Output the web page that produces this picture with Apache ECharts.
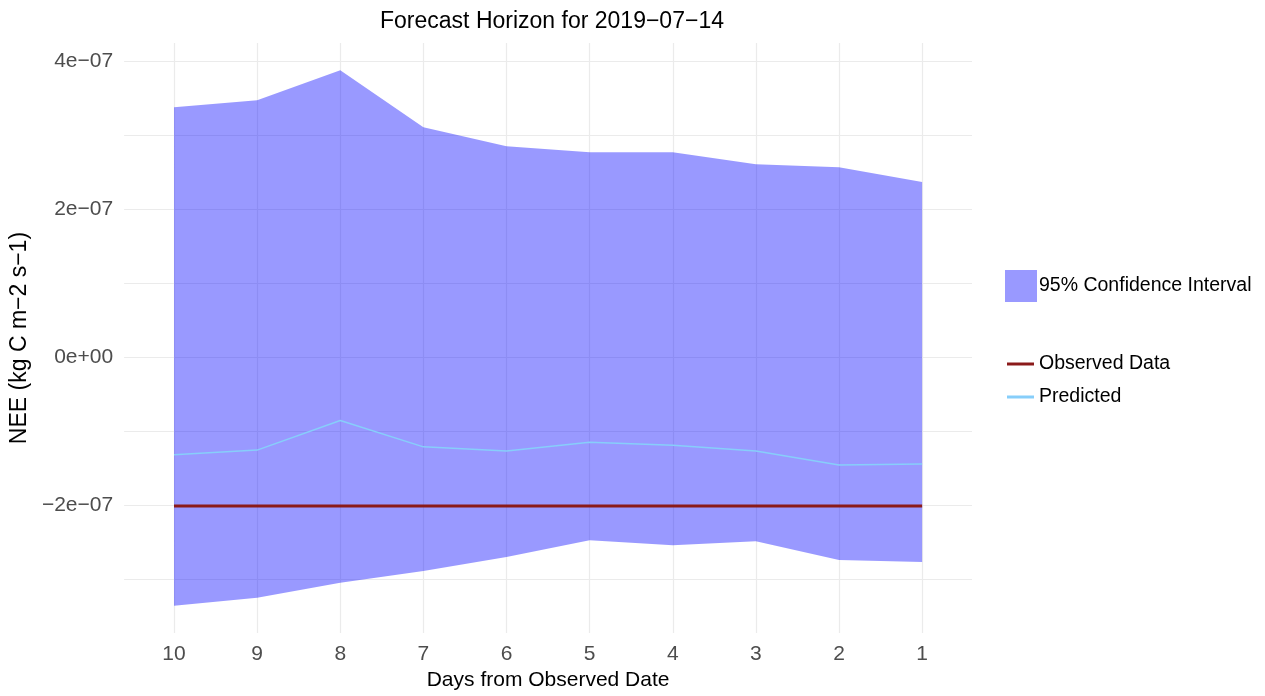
<!DOCTYPE html>
<html>
<head>
<meta charset="UTF-8">
<title>Forecast Horizon</title>
<script src="https://cdn.jsdelivr.net/npm/echarts@6/dist/echarts.min.js"></script>
<style>
  html, body { margin: 0; padding: 0; background: #fff; }
  #main { width: 1265px; height: 696px; }
</style>
</head>
<body>
<div id="main"></div>
<script>
// days from observed date (x), plotted 10 -> 1
var days = [10, 9, 8, 7, 6, 5, 4, 3, 2, 1];
var upper = [3.378e-7, 3.472e-7, 3.877e-7, 3.106e-7, 2.848e-7, 2.767e-7, 2.767e-7, 2.607e-7, 2.567e-7, 2.366e-7];
var lower = [-3.360e-7, -3.252e-7, -3.050e-7, -2.890e-7, -2.703e-7, -2.475e-7, -2.542e-7, -2.489e-7, -2.743e-7, -2.770e-7];
var predicted = [-1.320e-7, -1.257e-7, -0.856e-7, -1.213e-7, -1.270e-7, -1.150e-7, -1.190e-7, -1.270e-7, -1.457e-7, -1.444e-7];
var observed = [-2.012e-7, -2.012e-7, -2.012e-7, -2.012e-7, -2.012e-7, -2.012e-7, -2.012e-7, -2.012e-7, -2.012e-7, -2.012e-7];
var yLabelTicks = [-2e-7, 0, 2e-7, 4e-7];
var yGridTicks = [-3e-7, -2e-7, -1e-7, 0, 1e-7, 2e-7, 3e-7, 4e-7];

var FONT = 'Liberation Sans';

function fmtSci(v) {
  if (Math.abs(v) < 1e-12) return '0e+00';
  var s = v.toExponential(0);           // e.g. "4e-7"
  var m = s.split('e');
  var exp = parseInt(m[1], 10);
  var sign = exp < 0 ? '\u2212' : '+';
  var e = Math.abs(exp);
  var mant = m[0].replace('-', '\u2212');
  return mant + 'e' + sign + (e < 10 ? '0' + e : e);
}

function pairs(arr) {
  return days.map(function (d, i) { return [d, arr[i]]; });
}

// ribbon: one polygon, upper edge left->right then lower edge back
function renderRibbon(params, api) {
  if (params.dataIndex !== 0) return;
  var pts = [];
  for (var i = 0; i < days.length; i++) pts.push(api.coord([days[i], upper[i]]));
  for (var j = days.length - 1; j >= 0; j--) pts.push(api.coord([days[j], lower[j]]));
  return {
    type: 'polygon',
    shape: { points: pts },
    style: { fill: 'rgba(0,0,255,0.4)', stroke: null }
  };
}

var chart = echarts.init(document.getElementById('main'));
chart.setOption({
  animation: false,
  backgroundColor: '#ffffff',
  title: {
    text: 'Forecast Horizon for 2019\u221207\u221214',
    left: 547, textAlign: 'center', top: 5,
    textStyle: { fontFamily: FONT, fontSize: 23, fontWeight: 'normal', color: '#000' }
  },
  grid: { left: 123, right: 293, top: 43, bottom: 57 },
  xAxis: {
    type: 'value',
    inverse: true,
    min: 0.4, max: 10.6,
    name: 'Days from Observed Date',
    nameLocation: 'middle',
    nameGap: 32,
    nameTextStyle: { fontFamily: FONT, fontSize: 21, color: '#000' },
    axisLine: { show: false },
    axisTick: { show: false, customValues: days },
    axisLabel: {
      customValues: days, margin: 11,
      fontFamily: FONT, fontSize: 21, color: '#4d4d4d'
    },
    splitLine: { show: true, lineStyle: { color: '#ebebeb', width: 1.2 } }
  },
  yAxis: {
    type: 'value',
    min: -3.73e-7, max: 4.245e-7,
    name: 'NEE (kg C m\u22122 s\u22121)',
    nameLocation: 'middle',
    nameRotate: 90,
    nameGap: 84,
    nameTextStyle: { fontFamily: FONT, fontSize: 23, color: '#000' },
    axisLine: { show: false },
    axisTick: { show: false, customValues: yGridTicks },
    axisLabel: {
      customValues: yLabelTicks, margin: 11,
      fontFamily: FONT, fontSize: 21, color: '#4d4d4d',
      formatter: fmtSci
    },
    splitLine: { show: true, lineStyle: { color: '#ebebeb', width: 1.2 } }
  },
  legend: [{
    orient: 'vertical',
    left: 1000, top: 265,
    itemWidth: 32, itemHeight: 32, itemGap: 6,
    textStyle: { fontFamily: FONT, fontSize: 19.5, color: '#000', padding: [0, 0, 0, -3] },
    data: [{ name: '95% Confidence Interval', icon: 'rect' }]
  }, {
    orient: 'vertical',
    left: 1002, top: 349,
    itemWidth: 27, itemHeight: 3, itemGap: 13,
    textStyle: { fontFamily: FONT, fontSize: 19.5, color: '#000', padding: [0, 0, 0, 0] },
    data: [{ name: 'Observed Data', icon: 'rect' }, { name: 'Predicted', icon: 'rect' }]
  }],
  series: [{
    name: '95% Confidence Interval',
    type: 'custom',
    renderItem: renderRibbon,
    data: days.map(function (d, i) { return [d, upper[i], lower[i]]; }),
    encode: { x: 0, y: [1, 2] },
    itemStyle: { color: 'rgba(0,0,255,0.4)' },
    silent: true
  }, {
    name: 'Observed Data',
    type: 'line',
    data: pairs(observed),
    symbol: 'none',
    itemStyle: { color: '#8b1a1a' },
    lineStyle: { color: '#8b1a1a', width: 3 }
  }, {
    name: 'Predicted',
    type: 'line',
    data: pairs(predicted),
    symbol: 'none',
    itemStyle: { color: '#87cefa' },
    lineStyle: { color: '#87cefa', width: 1.5 }
  }]
});
</script>
</body>
</html>
